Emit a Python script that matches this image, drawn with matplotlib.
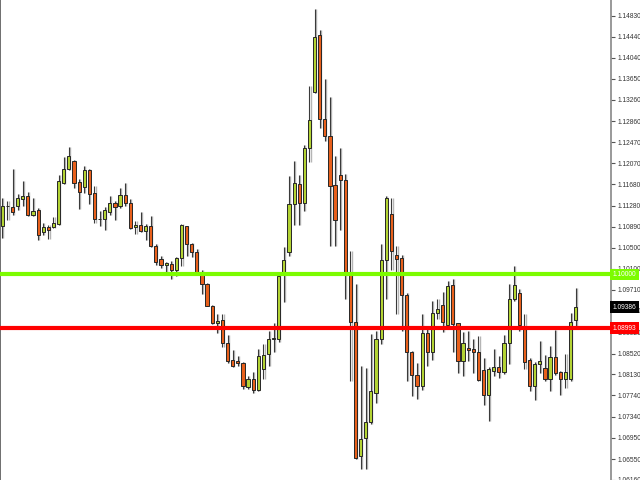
import numpy as np
import matplotlib
matplotlib.use("Agg")
from matplotlib import pyplot as plt
from matplotlib.transforms import blended_transform_factory

# Daily candles (open, high, low, close)
opens = [1.10897, 1.11270, 1.11259, 1.11270, 1.11408, 1.11470, 1.11110, 1.11203, 1.10793, 1.10892,
         1.10886, 1.10948, 1.11706, 1.11967, 1.12122, 1.11718, 1.11624, 1.11954, 1.11520, 1.11035,
         1.11035, 1.11158, 1.11333, 1.11270, 1.11488, 1.11333, 1.10886, 1.10916, 1.10804, 1.10910,
         1.10525, 1.10290, 1.10174, 1.10202, 1.10081, 1.10305, 1.10897, 1.10575, 1.10416, 1.09997,
         1.09811, 1.09414, 1.09097, 1.09145, 1.08711, 1.08394, 1.08385, 1.08351, 1.07904, 1.08040,
         1.07840, 1.08226, 1.08521, 1.08798, 1.08798, 1.09997, 1.10420, 1.11320, 1.11693, 1.11333,
         1.12359, 1.13414, 1.14471, 1.12899, 1.12588, 1.11669, 1.11861, 1.11768, 1.10040, 1.09108,
         1.06599, 1.06953, 1.07244, 1.07792, 1.08785, 1.10277, 1.11128, 1.10370, 1.10308, 1.09611,
         1.08549, 1.08114, 1.07915, 1.08897, 1.08556, 1.09270, 1.09419, 1.09052, 1.09792, 1.09084,
         1.08381, 1.08631, 1.08599, 1.08556, 1.08213, 1.07742, 1.08195, 1.08276, 1.08176, 1.08724,
         1.09531, 1.09643, 1.09033, 1.08400, 1.07915, 1.08332, 1.08250, 1.08053, 1.08463, 1.08176,
         1.08040, 1.08040, 1.09145]
highs = [1.11427, 1.11363, 1.11967, 1.11507, 1.11736, 1.11531, 1.11427, 1.11240, 1.10961, 1.10929,
         1.11065, 1.11861, 1.12191, 1.12377, 1.12141, 1.11781, 1.12016, 1.11967, 1.11656, 1.11190,
         1.11259, 1.11470, 1.11363, 1.11613, 1.11706, 1.11408, 1.10990, 1.11162, 1.10948, 1.11097,
         1.10575, 1.10338, 1.10234, 1.10258, 1.10327, 1.10948, 1.10910, 1.10588, 1.10476, 1.10090,
         1.09839, 1.09432, 1.09251, 1.09251, 1.08869, 1.08580, 1.08474, 1.08360, 1.08096, 1.08170,
         1.08612, 1.08692, 1.08935, 1.09084, 1.10040, 1.10513, 1.11829, 1.12109, 1.11861, 1.12420,
         1.13520, 1.14950, 1.14564, 1.13645, 1.13320, 1.12202, 1.12359, 1.11880, 1.10431, 1.09811,
         1.08291, 1.08258, 1.08879, 1.08940, 1.10575, 1.11470, 1.11427, 1.10525, 1.10370, 1.09656,
         1.08567, 1.08351, 1.09251, 1.08985, 1.09499, 1.09531, 1.09667, 1.09872, 1.09904, 1.09090,
         1.08922, 1.08940, 1.08798, 1.08847, 1.08444, 1.08276, 1.08599, 1.08474, 1.08860, 1.09811,
         1.10165, 1.09730, 1.09251, 1.08444, 1.08362, 1.08754, 1.08487, 1.08661, 1.08959, 1.08195,
         1.08506, 1.09270, 1.09749]
lows = [1.10681, 1.11022, 1.11102, 1.11196, 1.11283, 1.11084, 1.11084, 1.10649, 1.10743, 1.10662,
        1.10867, 1.10929, 1.11693, 1.11954, 1.11613, 1.11227, 1.11520, 1.11320, 1.10961, 1.10910,
        1.10836, 1.11115, 1.11022, 1.11240, 1.11270, 1.10849, 1.10761, 1.10785, 1.10649, 1.10519,
        1.10183, 1.10122, 1.10029, 1.09904, 1.09965, 1.10152, 1.10338, 1.10327, 1.09997, 1.09624,
        1.09406, 1.09065, 1.08910, 1.08649, 1.08347, 1.08276, 1.08291, 1.07853, 1.07853, 1.07779,
        1.07816, 1.08040, 1.08288, 1.08543, 1.08735, 1.09481, 1.10351, 1.10929, 1.10929, 1.11177,
        1.12090, 1.13384, 1.12732, 1.12482, 1.10538, 1.10538, 1.10836, 1.09531, 1.08009, 1.06549,
        1.06362, 1.06362, 1.07201, 1.07592, 1.08692, 1.09531, 1.10090, 1.09251, 1.08940, 1.08009,
        1.07729, 1.07680, 1.07840, 1.08288, 1.08400, 1.09171, 1.08922, 1.08985, 1.08549, 1.08152,
        1.08101, 1.08381, 1.08152, 1.08009, 1.07555, 1.07262, 1.08101, 1.08072, 1.08133, 1.08319,
        1.09499, 1.08940, 1.08239, 1.07822, 1.07654, 1.08152, 1.08009, 1.07822, 1.08114, 1.07742,
        1.07885, 1.08009, 1.09004]
closes = [1.11283, 1.11272, 1.11166, 1.11427, 1.11470, 1.11102, 1.11190, 1.10730, 1.10886, 1.10836,
          1.10961, 1.11749, 1.11967, 1.12215, 1.11706, 1.11544, 1.11954, 1.11507, 1.11035, 1.11040,
          1.11196, 1.11333, 1.11259, 1.11488, 1.11333, 1.10867, 1.10929, 1.10804, 1.10910, 1.10525,
          1.10239, 1.10170, 1.10215, 1.10081, 1.10305, 1.10929, 1.10575, 1.10416, 1.10016, 1.09811,
          1.09414, 1.09093, 1.09134, 1.08711, 1.08381, 1.08295, 1.08347, 1.07915, 1.08040, 1.07840,
          1.08469, 1.08497, 1.08798, 1.08810, 1.09978, 1.10277, 1.11320, 1.11706, 1.11333, 1.12359,
          1.12886, 1.14428, 1.12899, 1.12588, 1.11656, 1.11009, 1.11768, 1.10040, 1.09108, 1.06580,
          1.06934, 1.07244, 1.07822, 1.08785, 1.10277, 1.11427, 1.10444, 1.10290, 1.09611, 1.08556,
          1.08114, 1.07915, 1.08897, 1.08556, 1.09283, 1.09345, 1.09108, 1.09779, 1.09065, 1.08381,
          1.08724, 1.08586, 1.08556, 1.08027, 1.07742, 1.08239, 1.08276, 1.08176, 1.08711, 1.09531,
          1.09792, 1.09046, 1.08362, 1.07915, 1.08319, 1.08375, 1.08053, 1.08463, 1.08165, 1.08040,
          1.08176, 1.09108, 1.09386]

# price scale labels on the right
price_ticks = [1.14830, 1.14440, 1.14040, 1.13650, 1.13260, 1.12860, 1.12470, 1.12070,
               1.11680, 1.11280, 1.10890, 1.10500, 1.10100, 1.09710, 1.09320, 1.08920,
               1.08520, 1.08130, 1.07740, 1.07340, 1.06950, 1.06550, 1.06160]

level_green = 1.10000
level_red = 1.08993
last_price = 1.09386

bull_col = "#b3d334"
bear_col = "#e8601c"

opens = np.array(opens)
highs = np.array(highs)
lows = np.array(lows)
closes = np.array(closes)
x = np.arange(len(opens))

fig = plt.figure(figsize=(6.4, 4.8), dpi=100)
ax = fig.add_axes([0, 0, 611/640, 1])

# wick shadow, then wick
ax.vlines(x + 0.22, lows, highs, color="#b5b5b5", linewidth=1, zorder=1)
ax.vlines(x, lows, highs, color="#3a3a3a", linewidth=0.8, zorder=2)

# bodies
up = closes >= opens
bottom = np.minimum(opens, closes)
height = np.maximum(np.abs(closes - opens), 0.00002)
cols = np.where(up, bull_col, bear_col)
ax.bar(x, height, bottom=bottom, width=0.62, color=cols, edgecolor="#262626",
       linewidth=0.7, zorder=3)

# horizontal levels
ax.axhline(level_green, color="#7cfc00", linewidth=3, zorder=4)
ax.axhline(level_red, color="#ff0000", linewidth=3, zorder=4)

ax.set_xlim(-0.45, 118.9)
ax.set_ylim(1.06176, 1.15123)
ax.set_xticks([])

ax.yaxis.tick_right()
ax.set_yticks(price_ticks)
ax.set_yticklabels([f"{p:.5f}" for p in price_ticks])
ax.tick_params(axis="y", direction="out", length=3, width=0.8, color="#555555",
               labelsize=4.8, labelcolor="#333333", pad=1.5)
for lab in ax.get_yticklabels():
    lab.set_family("Liberation Sans")

for s in ["top", "bottom"]:
    ax.spines[s].set_visible(False)
ax.spines["left"].set_color("#555555")
ax.spines["left"].set_linewidth(1.2)
ax.spines["right"].set_color("#888888")
ax.spines["right"].set_linewidth(1.2)

# price tags on the scale
trans = blended_transform_factory(ax.transAxes, ax.transData)
for val, bg in [(level_green, "#7cfc00"), (level_red, "#ff0000"), (last_price, "#000000")]:
    ax.text(1.003, val, f"{val:.5f}", transform=trans, ha="left", va="center",
            fontsize=4.8, family="Liberation Sans", color="white", clip_on=False,
            zorder=10, bbox=dict(boxstyle="square,pad=0.35", facecolor=bg, edgecolor="none"))

fig.savefig("out.png", dpi=100, facecolor="white")
